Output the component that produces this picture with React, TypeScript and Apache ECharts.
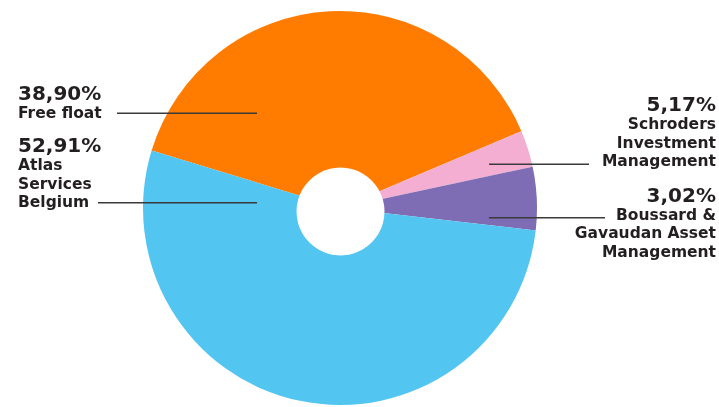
import React, { useEffect, useRef } from "react";
import * as echarts from "echarts";

const sliceNames = [
  "Free float",
  "Schroders Investment Management",
  "Boussard & Gavaudan Asset Management",
  "Atlas Services Belgium",
];
const sliceValues = [38.9, 3.02, 5.17, 52.91];
const percentLabels = ["38,90%", "5,17%", "3,02%", "52,91%"];
const nameLines = [
  ["Free float"],
  ["Schroders", "Investment", "Management"],
  ["Boussard &", "Gavaudan Asset", "Management"],
  ["Atlas", "Services", "Belgium"],
];
const sliceColors = ["#FF7C00", "#F3AED2", "#7E6DB4", "#53C5F1"];

const labelPlaces = [
  { x: 18, y: 82.2, align: "left", line: [[257, 113.3], [117, 113.3]] },
  { x: 716, y: 93.2, align: "right", line: [[489, 164.3], [589, 164.3]] },
  { x: 716, y: 183.5, align: "right", line: [[489, 217.7], [605, 217.7]] },
  { x: 18, y: 134.2, align: "left", line: [[257, 202.7], [98, 202.7]] },
];

export default function App() {
  const ref = useRef<HTMLDivElement>(null);
  useEffect(() => {
    if (!ref.current) return;
    const chart = echarts.init(ref.current, null, { renderer: "svg" });
    const font = "'DejaVu Sans', sans-serif";
    const sliceData = sliceValues.map((v, i) => ({
      name: sliceNames[i],
      value: v,
      itemStyle: { color: sliceColors[i] },
    }));
    const labelData = sliceValues.map((v, i) => ({
      name: sliceNames[i],
      value: v,
      itemStyle: { color: "rgba(0,0,0,0)" },
      label: {
        align: labelPlaces[i].align,
        rich: {
          p: {
            fontFamily: font,
            fontWeight: "bold",
            fontSize: 20,
            lineHeight: 22,
            color: "#231F20",
            align: labelPlaces[i].align,
          },
          n: {
            fontFamily: font,
            fontWeight: "bold",
            fontSize: 15.5,
            lineHeight: 18.5,
            color: "#231F20",
            align: labelPlaces[i].align,
          },
        },
      },
    }));
    const common = {
      type: "pie",
      center: [340, 208],
      radius: [0, 197],
      startAngle: 163,
      clockwise: true,
      avoidLabelOverlap: false,
      silent: true,
      emphasis: { disabled: true },
    };
    chart.setOption({
      animation: false,
      series: [
        {
          ...common,
          z: 2,
          data: sliceData,
          label: { show: false },
          labelLine: { show: false },
        },
        {
          ...common,
          z: 3,
          data: labelData,
          label: {
            show: true,
            position: "outside",
            formatter: (p: any) =>
              `{p|${percentLabels[p.dataIndex]}}\n` +
              nameLines[p.dataIndex].map((l) => `{n|${l}}`).join("\n"),
          },
          labelLine: {
            show: true,
            showAbove: true,
            length: 10,
            length2: 10,
            lineStyle: { color: "#3A3A3A", width: 1.5 },
          },
          labelLayout: (params: any) => {
            const pl = labelPlaces[params.dataIndex];
            return {
              x: pl.x,
              y: pl.y,
              align: pl.align,
              verticalAlign: "top",
              labelLinePoints: pl.line,
            };
          },
        },
      ],
      graphic: [
        {
          type: "circle",
          shape: { cx: 340.5, cy: 211.5, r: 44 },
          style: { fill: "#ffffff" },
          z: 100,
        },
      ],
    });
    return () => chart.dispose();
  }, []);
  return (
    <div
      ref={ref}
      style={{ position: "fixed", left: 0, top: 0, width: 719, height: 407 }}
    />
  );
}
